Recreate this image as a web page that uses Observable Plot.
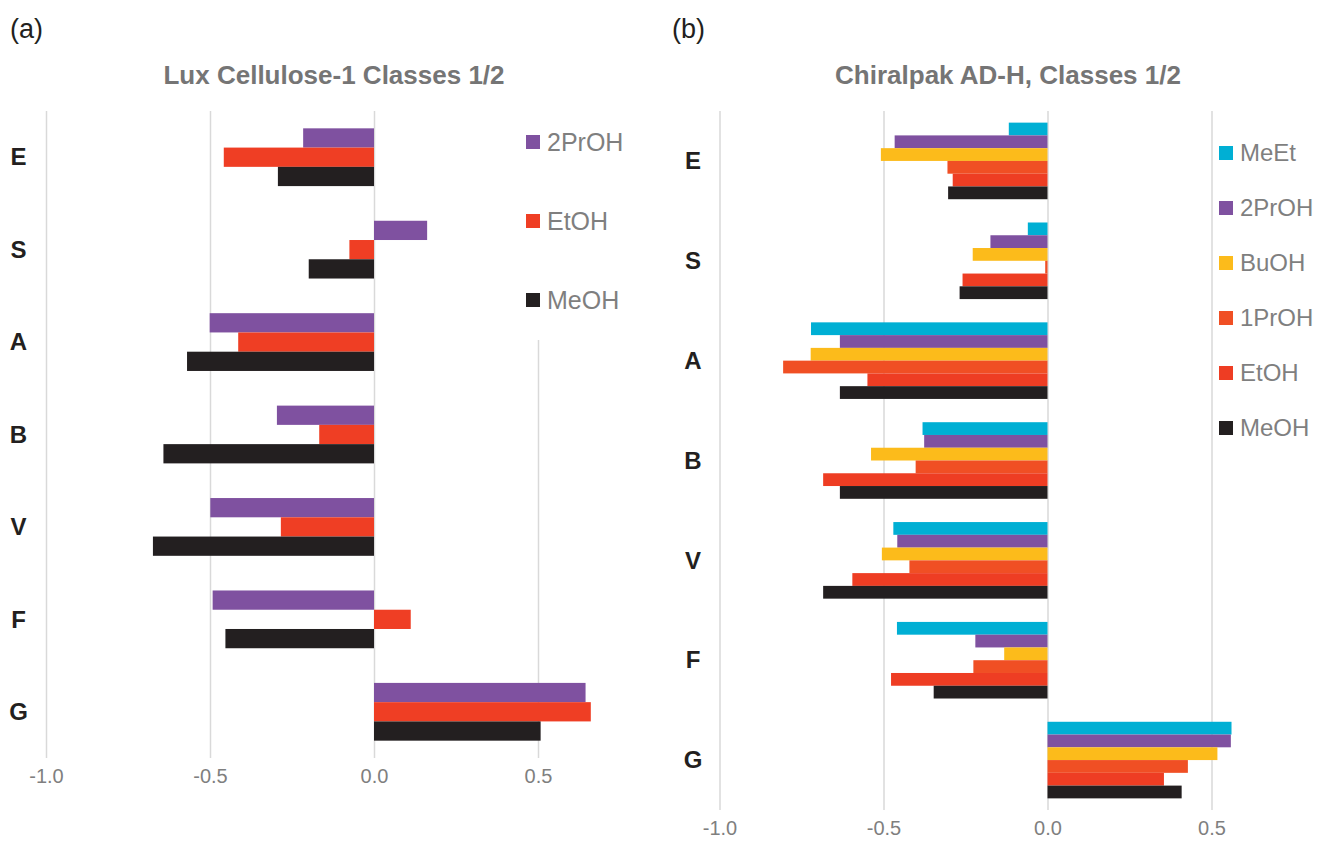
<!DOCTYPE html>
<html>
<head>
<meta charset="utf-8">
<script src="https://cdn.jsdelivr.net/npm/d3@7"></script>
<script src="https://cdn.jsdelivr.net/npm/@observablehq/plot@0.6"></script>
<style>
  html, body { margin: 0; padding: 0; background: #fff; }
  body { font-family: "Liberation Sans", Arial, Helvetica, sans-serif; }
  #root { position: relative; width: 1320px; height: 841px; overflow: hidden; background: #fff; }
  .panel-tag { font-size: 27px; color: #231f20; line-height: 1; }
  .title { font-size: 26px; font-weight: bold; color: #757575; line-height: 1; white-space: nowrap; transform: translateX(-50%); }
  .legend { background: #fff; }
  .legend .row { display: flex; align-items: center; white-space: nowrap; color: #7f7f7f; }
  .legend .sw { width: 14px; height: 14px; margin-right: 7px; flex: none; }
</style>
</head>
<body>
<div id="root"></div>
<script>
// ---------- data ----------
const categories = ["E", "S", "A", "B", "V", "F", "G"];
const xTicks = [-1.0, -0.5, 0.0, 0.5];

// (a) Lux Cellulose-1 Classes 1/2
const luxSeries = ["2PrOH", "EtOH", "MeOH"];
const luxColors = ["#7f51a0", "#ef3e24", "#231f20"];
const lux2PrOH = [-0.216, 0.162, -0.501, -0.296, -0.499, -0.492, 0.645];
const luxEtOH  = [-0.458, -0.075, -0.414, -0.167, -0.284, 0.112, 0.661];
const luxMeOH  = [-0.293, -0.199, -0.570, -0.642, -0.674, -0.453, 0.508];

// (b) Chiralpak AD-H, Classes 1/2
const adSeries = ["MeEt", "2PrOH", "BuOH", "1PrOH", "EtOH", "MeOH"];
const adColors = ["#00afd4", "#7f51a0", "#fcbb1b", "#f04f24", "#ee3d23", "#231f20"];
const adMeEt  = [-0.118, -0.060, -0.721, -0.381, -0.470, -0.459, 0.561];
const ad2PrOH = [-0.466, -0.174, -0.633, -0.376, -0.458, -0.220, 0.559];
const adBuOH  = [-0.508, -0.228, -0.722, -0.538, -0.505, -0.132, 0.518];
const ad1PrOH = [-0.305, -0.007, -0.806, -0.402, -0.421, -0.226, 0.428];
const adEtOH  = [-0.289, -0.259, -0.549, -0.684, -0.595, -0.477, 0.355];
const adMeOH  = [-0.303, -0.268, -0.633, -0.633, -0.684, -0.347, 0.409];

function rows(series, valueArrays) {
  const out = [];
  categories.forEach((c, i) => series.forEach((s, j) => out.push({category: c, series: s, value: valueArrays[j][i]})));
  return out;
}
const luxData = rows(luxSeries, [lux2PrOH, luxEtOH, luxMeOH]);
const adData = rows(adSeries, [adMeEt, ad2PrOH, adBuOH, ad1PrOH, adEtOH, adMeOH]);

// ---------- drawing ----------
const root = document.getElementById("root");
const FONT = "'Liberation Sans', Arial, Helvetica, sans-serif";

function place(el, left, top) {
  el.style.position = "absolute";
  el.style.left = left + "px";
  el.style.top = top + "px";
  root.appendChild(el);
  return el;
}

function panel(opts) {
  const {data, series, colors, left, top, width, height, marginLeft, marginRight, marginTop, marginBottom, padInner, labelDx} = opts;
  const common = {width, height, marginLeft, marginRight, marginTop, marginBottom};
  // background layer: grid lines + x tick labels
  const grid = Plot.plot({
    ...common,
    style: {background: "transparent", fontFamily: FONT},
    x: {domain: [-1, 0.8], axis: null},
    marks: [
      Plot.ruleX(xTicks, {stroke: "#d9d9d9", strokeWidth: 1.5}),
      Plot.axisX(xTicks, {anchor: "bottom", tickSize: 0, tickPadding: 10, tickFormat: d => d.toFixed(1),
        fontSize: 20, fill: "#7f7f7f", label: null})
    ]
  });
  place(grid, left, top);
  // foreground layer: grouped bars and category labels
  const bars = Plot.plot({
    ...common,
    style: {background: "transparent", fontFamily: FONT, overflow: "visible"},
    x: {domain: [-1, 0.8], axis: null},
    y: {domain: series, axis: null, padding: 0, round: false},
    fy: {domain: categories, paddingInner: padInner, paddingOuter: padInner / 2, axis: null, round: false},
    color: {domain: series, range: colors},
    marks: [
      Plot.barX(data, {fy: "category", y: "series", x1: 0, x2: "value", fill: "series"}),
      Plot.text(categories, {fy: d => d, text: d => d, frameAnchor: "left", textAnchor: "middle", dx: labelDx,
        fontWeight: "bold", fontSize: 24, fill: "#231f20"})
    ]
  });
  place(bars, left, top);
}

panel({data: luxData, series: luxSeries, colors: luxColors, left: 0, top: 100, width: 660, height: 700,
  marginLeft: 46, marginRight: 23.6, marginTop: 11, marginBottom: 42, padInner: 0.375, labelDx: -28});
panel({data: adData, series: adSeries, colors: adColors, left: 660, top: 100, width: 660, height: 741,
  marginLeft: 59.5, marginRight: 10.1, marginTop: 11, marginBottom: 31, padInner: 0.233, labelDx: -27});

// titles and panel tags
function textEl(cls, txt, left, top) {
  const d = document.createElement("div");
  d.className = cls;
  d.textContent = txt;
  return place(d, left, top);
}
textEl("panel-tag", "(a)", 10, 16);
textEl("panel-tag", "(b)", 672, 16);
textEl("title", "Lux Cellulose-1 Classes 1/2", 334, 62);
textEl("title", "Chiralpak AD-H, Classes 1/2", 1008, 62);

// legends
function legend(series, colors, left, top, rowH, fontSize, w) {
  const box = document.createElement("div");
  box.className = "legend";
  box.style.width = w + "px";
  series.forEach((s, i) => {
    const r = document.createElement("div");
    r.className = "row";
    r.style.height = rowH + "px";
    r.style.fontSize = fontSize + "px";
    const sw = document.createElement("span");
    sw.className = "sw";
    sw.style.background = colors[i];
    const t = document.createElement("span");
    t.textContent = s;
    r.appendChild(sw); r.appendChild(t);
    box.appendChild(r);
  });
  place(box, left, top);
}
legend(luxSeries, luxColors, 526, 102.5, 79, 25, 120);
legend(adSeries, adColors, 1219, 125.5, 55, 24, 100);
</script>
</body>
</html>
